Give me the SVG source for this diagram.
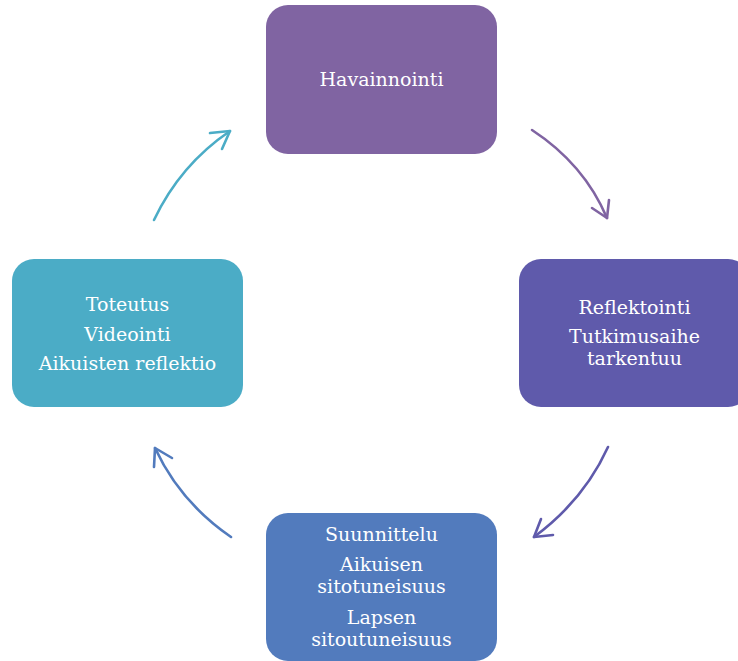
<svg xmlns="http://www.w3.org/2000/svg" width="738" height="661" viewBox="0 0 738 661">
  <style>
    .box { stroke: none; }
    .label { font-family: "DejaVu Serif", "Liberation Serif", serif; font-size: 19px; fill: #ffffff; text-anchor: middle; }
    .conn { fill: none; stroke-width: 2.6; stroke-linecap: round; stroke-linejoin: round; }
  </style>
  <rect width="738" height="661" fill="#ffffff"/>

  <g id="havainnointi">
    <rect class="box" x="266" y="5" width="231" height="149" rx="22" fill="#8064A2"/>
    <text class="label" x="381.5" y="86">Havainnointi</text>
  </g>

  <g id="reflektointi">
    <rect class="box" x="519" y="259" width="231" height="148" rx="22" fill="#5F5AAB"/>
    <text class="label" x="634.5" y="314">Reflektointi</text>
    <text class="label" x="634.5" y="343">Tutkimusaihe</text>
    <text class="label" x="634.5" y="365">tarkentuu</text>
  </g>

  <g id="suunnittelu">
    <rect class="box" x="266" y="513" width="231" height="148" rx="22" fill="#527BBD"/>
    <text class="label" x="381.5" y="541">Suunnittelu</text>
    <text class="label" x="381.5" y="571">Aikuisen</text>
    <text class="label" x="381.5" y="593">sitotuneisuus</text>
    <text class="label" x="381.5" y="624">Lapsen</text>
    <text class="label" x="381.5" y="646">sitoutuneisuus</text>
  </g>

  <g id="toteutus">
    <rect class="box" x="12" y="259" width="231" height="148" rx="22" fill="#4BACC6"/>
    <text class="label" x="127.5" y="311">Toteutus</text>
    <text class="label" x="127.5" y="341">Videointi</text>
    <text class="label" x="127.5" y="370">Aikuisten reflektio</text>
  </g>

  <g id="connectors">
    <g stroke="#8064A2">
      <path class="conn" d="M532,130 Q584,164 607,218"/>
      <path class="conn" d="M592,208 L607,218 L609,200"/>
    </g>
    <g stroke="#5F5AAB">
      <path class="conn" d="M608,447 Q584,500 534,537"/>
      <path class="conn" d="M541,519 L534,537 L553,535"/>
    </g>
    <g stroke="#527BBD">
      <path class="conn" d="M231,537 Q180,502 155,448"/>
      <path class="conn" d="M154,467 L155,448 L172,458"/>
    </g>
    <g stroke="#4BACC6">
      <path class="conn" d="M154,220 Q180,165 230,131"/>
      <path class="conn" d="M210,133 L230,131 L222,149"/>
    </g>
  </g>
</svg>
